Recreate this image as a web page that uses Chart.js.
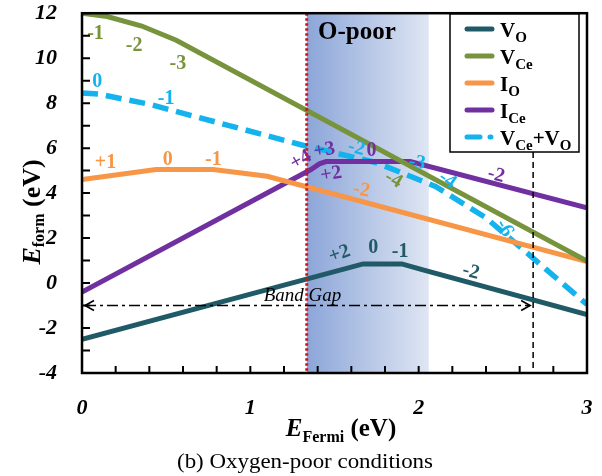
<!DOCTYPE html>
<html>
<head>
<meta charset="utf-8">
<script src="https://cdn.jsdelivr.net/npm/chart.js@4.4.0/dist/chart.umd.min.js"></script>
<style>
  html, body { margin: 0; padding: 0; background: #fff; }
</style>
</head>
<body>
<canvas id="chart" width="602" height="476"></canvas>
<script>
// data (Fermi level in eV, formation energy in eV)
const vO_fermi = [0, 1.67, 1.9, 2.02, 3];
const vO_form = [-2.5, 0.85, 0.85, 0.6, -1.4];

const vCe_fermi = [0, 0.15, 0.355, 0.56, 3];
const vCe_form = [12, 11.85, 11.43, 10.8, 0.98];

const iO_fermi = [0, 0.44, 0.78, 1.1, 3];
const iO_form = [4.6, 5.05, 5.05, 4.75, 0.95];

const iCe_fermi = [0, 1.36, 1.41, 1.45, 1.95, 3];
const iCe_form = [-0.4, 5.05, 5.3, 5.4, 5.4, 3.35];

const pair_fermi = [0, 0.1, 0.4, 1.3, 1.75, 2.1, 2.4, 3];
const pair_form = [8.45, 8.4, 7.95, 6.15, 5.35, 4.3, 2.9, -0.95];

const xTicks = [0, 1, 2, 3];
const yTicks = [-4, -2, 0, 2, 4, 6, 8, 10, 12];

// O-poor window, band gap edge
const oPoorFrom = 1.335;
const oPoorTo = 2.06;
const bandGap = 2.68;
const bandGapLevel = -1;

// charge-state labels: text, E_Fermi, E_form, series, rotation (deg)
const chargeLabels = [
  ['-1', 0.08, 11.07, 'vCe', 0], ['-2', 0.31, 10.53, 'vCe', 0], ['-3', 0.57, 9.73, 'vCe', 0],
  ['-4', 1.85, 4.6, 'vCe', 30],
  ['0', 0.09, 8.93, 'pair', 0], ['-1', 0.5, 8.2, 'pair', 0], ['-2', 1.63, 6.0, 'pair', 15],
  ['-3', 1.99, 5.35, 'pair', 10], ['-4', 2.17, 4.58, 'pair', 35], ['-6', 2.51, 2.44, 'pair', 60],
  ['+4', 1.3, 5.47, 'iCe', -30], ['+3', 1.44, 5.9, 'iCe', -10], ['+2', 1.48, 4.84, 'iCe', -10],
  ['0', 1.72, 5.87, 'iCe', 0], ['-2', 2.46, 4.8, 'iCe', 15],
  ['+1', 0.14, 5.33, 'iO', 0], ['0', 0.51, 5.47, 'iO', 0], ['-1', 0.78, 5.47, 'iO', 0],
  ['-2', 1.66, 4.13, 'iO', 10],
  ['+2', 1.53, 1.29, 'vO', -20], ['0', 1.73, 1.56, 'vO', 0], ['-1', 1.89, 1.38, 'vO', 0],
  ['-2', 2.31, 0.49, 'vO', 15]
];

const colors = {
  vO: '#215a67',
  vCe: '#77933c',
  iO: '#f79646',
  iCe: '#7030a0',
  pair: '#15b3ee'
};

const serif = '"Liberation Serif", "Times New Roman", serif';

function pts(xs, ys) {
  return xs.map((x, i) => ({x: x, y: ys[i]}));
}

// draws runs of [text, font, dy] one after another
function drawRuns(ctx, runs, x0, y0) {
  let tx = x0;
  runs.forEach(([t, f, dy]) => {
    ctx.font = f + serif;
    ctx.fillText(t, tx, y0 + dy);
    tx += ctx.measureText(t).width;
  });
}

function runsWidth(ctx, runs) {
  let w = 0;
  runs.forEach(([t, f]) => { ctx.font = f + serif; w += ctx.measureText(t).width; });
  return w;
}

const overlay = {
  id: 'overlay',
  beforeDatasetsDraw(chart) {
    const {ctx, chartArea: a, scales: {x}} = chart;
    const x0 = x.getPixelForValue(oPoorFrom);
    const x1 = x.getPixelForValue(oPoorTo);
    const g = ctx.createLinearGradient(x0, 0, x1, 0);
    g.addColorStop(0, '#8ca6d9');
    g.addColorStop(1, '#dfe6f3');
    ctx.save();
    ctx.fillStyle = g;
    ctx.fillRect(x0, a.top, x1 - x0, a.bottom - a.top);
    ctx.restore();
  },
  afterDatasetsDraw(chart) {
    const {ctx, chartArea: a, scales: {x, y}} = chart;
    ctx.save();

    // charge labels
    ctx.font = 'bold 20px ' + serif;
    ctx.textAlign = 'center';
    ctx.textBaseline = 'middle';
    chargeLabels.forEach(([t, e, v, s, r]) => {
      ctx.save();
      ctx.translate(x.getPixelForValue(e), y.getPixelForValue(v));
      ctx.rotate(r * Math.PI / 180);
      ctx.fillStyle = colors[s];
      ctx.fillText(t, 0, 0);
      ctx.restore();
    });

    // red dotted line at O-poor limit
    ctx.strokeStyle = '#d0121b';
    ctx.lineWidth = 3;
    ctx.setLineDash([2.5, 2.5]);
    ctx.beginPath();
    ctx.moveTo(x.getPixelForValue(oPoorFrom), a.top);
    ctx.lineTo(x.getPixelForValue(oPoorFrom), a.bottom);
    ctx.stroke();

    // band gap edge
    const xg = x.getPixelForValue(bandGap);
    ctx.strokeStyle = '#000';
    ctx.lineWidth = 1.5;
    ctx.setLineDash([6, 4]);
    ctx.beginPath();
    ctx.moveTo(xg, 152);
    ctx.lineTo(xg, a.bottom);
    ctx.stroke();

    // band gap arrow
    const yb = y.getPixelForValue(bandGapLevel);
    const xa = a.left + 3;
    ctx.setLineDash([11, 4, 3, 4]);
    ctx.beginPath();
    ctx.moveTo(xa, yb);
    ctx.lineTo(xg - 3, yb);
    ctx.stroke();
    ctx.setLineDash([]);
    ctx.lineWidth = 1.6;
    ctx.beginPath();
    ctx.moveTo(xa + 9, yb - 5); ctx.lineTo(xa, yb); ctx.lineTo(xa + 9, yb + 5);
    ctx.moveTo(xg - 12, yb - 5); ctx.lineTo(xg - 3, yb); ctx.lineTo(xg - 12, yb + 5);
    ctx.stroke();
    ctx.fillStyle = '#000';
    ctx.font = 'italic 19px ' + serif;
    ctx.textAlign = 'center';
    ctx.textBaseline = 'alphabetic';
    ctx.fillText('Band Gap', x.getPixelForValue(1.31), yb - 5);

    // O-poor tag
    ctx.font = 'bold 25px ' + serif;
    ctx.textAlign = 'left';
    ctx.fillText('O-poor', 318, 39);

    // frame and inward ticks
    ctx.lineWidth = 2.5;
    ctx.strokeRect(a.left, a.top, a.right - a.left, a.bottom - a.top);
    ctx.lineWidth = 2;
    ctx.beginPath();
    for (let v = -4; v <= 12; v++) {
      const py = y.getPixelForValue(v);
      ctx.moveTo(a.left, py); ctx.lineTo(a.left + 8, py);
    }
    for (let i = 0; i <= 15; i++) {
      const px = x.getPixelForValue(i / 5);
      ctx.moveTo(px, a.bottom); ctx.lineTo(px, a.bottom - 7);
    }
    ctx.stroke();

    // legend
    const lx = 450, ly = 14, lw = 129, lh = 138;
    ctx.fillStyle = '#fff';
    ctx.fillRect(lx, ly, lw, lh);
    ctx.lineWidth = 1.5;
    ctx.strokeRect(lx, ly, lw, lh);
    const B = 'bold 21px ', S = 'bold 15px ';
    const rows = [
      ['vO', [['V', B, 8], ['O', S, 13]]],
      ['vCe', [['V', B, 8], ['Ce', S, 13]]],
      ['iO', [['I', B, 8], ['O', S, 13]]],
      ['iCe', [['I', B, 8], ['Ce', S, 13]]],
      ['pair', [['V', B, 8], ['Ce', S, 13], ['+V', B, 8], ['O', S, 13]]]
    ];
    const rowY = [29, 56, 83, 110, 137];
    rows.forEach(([s, parts], i) => {
      const ry = rowY[i];
      ctx.strokeStyle = colors[s];
      ctx.lineWidth = 5;
      ctx.lineCap = 'round';
      ctx.beginPath();
      if (s === 'pair') {
        ctx.moveTo(467, ry); ctx.lineTo(480, ry);
        ctx.moveTo(490, ry); ctx.lineTo(491, ry);
      } else {
        ctx.moveTo(467, ry); ctx.lineTo(492, ry);
      }
      ctx.stroke();
      ctx.lineCap = 'butt';
      ctx.fillStyle = '#000';
      drawRuns(ctx, parts, 500, ry);
    });

    // axis titles
    const xt = [['E', 'bold italic 25px ', 0], ['Fermi', 'bold 16px ', 6], [' (eV)', 'bold 25px ', 0]];
    drawRuns(ctx, xt, 341 - runsWidth(ctx, xt) / 2, 436);

    const yt = [['E', 'bold italic 26px ', 0], ['form', 'bold 16px ', 4], [' (eV)', 'bold 26px ', 0]];
    ctx.save();
    ctx.translate(40, 212);
    ctx.rotate(-Math.PI / 2);
    drawRuns(ctx, yt, -runsWidth(ctx, yt) / 2, 0);
    ctx.restore();

    // caption
    ctx.font = '21px ' + serif;
    ctx.textAlign = 'center';
    const cap = '(b) Oxygen-poor conditions';
    const k = 256 / ctx.measureText(cap).width;
    ctx.save();
    ctx.translate(305, 468);
    ctx.scale(k, 1);
    ctx.fillText(cap, 0, 0);
    ctx.restore();

    ctx.restore();
  }
};

const line = (key, xs, ys, dash) => ({
  data: pts(xs, ys),
  borderColor: colors[key],
  borderWidth: dash ? 5.5 : 5,
  borderDash: dash ? [16, 8] : [],
  pointRadius: 0,
  tension: 0,
  fill: false
});

new Chart(document.getElementById('chart'), {
  type: 'line',
  data: {
    datasets: [
      line('vO', vO_fermi, vO_form),
      line('vCe', vCe_fermi, vCe_form),
      line('iO', iO_fermi, iO_form),
      line('iCe', iCe_fermi, iCe_form),
      line('pair', pair_fermi, pair_form, true)
    ]
  },
  options: {
    responsive: false,
    animation: false,
    devicePixelRatio: 1,
    layout: {padding: {top: 13, right: 15, left: 0, bottom: 0}},
    plugins: {legend: {display: false}, tooltip: {enabled: false}},
    scales: {
      x: {
        type: 'linear',
        min: 0,
        max: 3,
        afterFit: (s) => { s.height = 103; },
        afterBuildTicks: (s) => { s.ticks = xTicks.map(v => ({value: v})); },
        grid: {display: false, drawTicks: true, tickLength: 22},
        border: {display: false},
        ticks: {
          padding: 0,
          color: '#000',
          font: {family: serif, size: 22, weight: 'bold', style: 'italic'},
          maxRotation: 0
        }
      },
      y: {
        min: -4,
        max: 12,
        afterFit: (s) => { s.width = 82; },
        afterBuildTicks: (s) => { s.ticks = yTicks.map(v => ({value: v})); },
        grid: {display: false, drawTicks: true, tickLength: 25},
        border: {display: false},
        ticks: {
          padding: 0,
          color: '#000',
          font: {family: serif, size: 22, weight: 'bold', style: 'italic'}
        }
      }
    }
  },
  plugins: [overlay]
});
</script>
</body>
</html>
